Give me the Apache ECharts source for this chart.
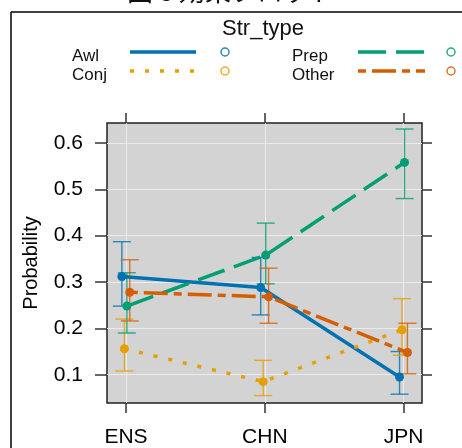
<!DOCTYPE html>
<html lang="ja">
<head>
    <meta charset="UTF-8">
    <title>効果プロット</title>
    <script src="https://cdn.jsdelivr.net/npm/echarts@6.0.0/dist/echarts.min.js"></script>
    <style>
        html, body { margin: 0; padding: 0; background: #fff; }
        #main { width: 462px; height: 448px; }
    </style>
</head>
<body>
    <div id="main"></div>
    <script type="text/javascript">
        // カテゴリと目盛り
        const categories = ['ENS', 'CHN', 'JPN'];
        const yTicks = [0.1, 0.2, 0.3, 0.4, 0.5, 0.6];

        // 各 Str_type の推定値と信頼区間
        const awl = [0.312, 0.288, 0.095];
        const awlLo = [0.248, 0.229, 0.058];
        const awlHi = [0.387, 0.353, 0.150];

        const conj = [0.156, 0.085, 0.197];
        const conjLo = [0.108, 0.055, 0.142];
        const conjHi = [0.220, 0.131, 0.264];

        const prep = [0.248, 0.358, 0.558];
        const prepLo = [0.190, 0.296, 0.480];
        const prepHi = [0.320, 0.427, 0.630];

        const other = [0.278, 0.268, 0.148];
        const otherLo = [0.216, 0.211, 0.102];
        const otherHi = [0.348, 0.330, 0.211];

        const FONT = '"Liberation Sans", Arial, sans-serif';

        const groups = [
            { name: 'Awl', est: awl, lo: awlLo, hi: awlHi, color: '#0072B2', dash: 'solid', off: -0.03 },
            { name: 'Conj', est: conj, lo: conjLo, hi: conjHi, color: '#E69F00', dash: [4, 11], off: -0.012 },
            { name: 'Prep', est: prep, lo: prepLo, hi: prepHi, color: '#009E73', dash: [28, 10], off: 0.006 },
            { name: 'Other', est: other, lo: otherLo, hi: otherHi, color: '#D55E00', dash: [8, 6, 24, 6], off: 0.027 },
        ];

        const series = [];
        groups.forEach(g => {
            // 信頼区間 (エラーバー)
            series.push({
                type: 'custom',
                name: g.name + '_ci',
                silent: true,
                z: 2,
                data: categories.map((c, i) => [i + 1 + g.off, g.lo[i], g.hi[i]]),
                renderItem: function (params, api) {
                    const lo = api.coord([api.value(0), api.value(1)]);
                    const hi = api.coord([api.value(0), api.value(2)]);
                    const w = 9;
                    const st = { stroke: g.color, lineWidth: 1.4, opacity: 0.8 };
                    return {
                        type: 'group',
                        children: [
                            { type: 'line', shape: { x1: lo[0], y1: lo[1], x2: hi[0], y2: hi[1] }, style: st },
                            { type: 'line', shape: { x1: lo[0] - w, y1: lo[1], x2: lo[0] + w, y2: lo[1] }, style: st },
                            { type: 'line', shape: { x1: hi[0] - w, y1: hi[1], x2: hi[0] + w, y2: hi[1] }, style: st },
                        ],
                    };
                },
            });
            // 推定値の線
            series.push({
                type: 'line',
                name: g.name,
                silent: true,
                z: 3,
                data: categories.map((c, i) => [i + 1 + g.off, g.est[i]]),
                symbol: 'circle',
                symbolSize: 9,
                itemStyle: { color: g.color },
                lineStyle: { color: g.color, width: 3.5, type: g.dash },
            });
        });

        // 凡例 (手描き)
        function legendItem(label, x, y, color, dash, lineX1, lineX2, circX) {
            return [
                { type: 'text', left: x, top: y - 6, style: { text: label, font: '17px ' + FONT, fill: '#111' } },
                { type: 'line', shape: { x1: lineX1, y1: y - 2, x2: lineX2, y2: y - 2 },
                  style: { stroke: color, lineWidth: 3.5, lineDash: dash === 'solid' ? null : dash } },
                { type: 'circle', shape: { cx: circX, cy: y - 2, r: 4 },
                  style: { fill: 'none', stroke: color, lineWidth: 1.5, opacity: 0.85 } },
            ];
        }

        const graphic = [
            { type: 'text', left: 'center', top: -22, style: { text: '図 8 効果プロット', font: '26px "Noto Sans CJK JP"', fill: '#111' } },
            { type: 'line', shape: { x1: 11, y1: 12, x2: 470, y2: 12 }, style: { stroke: '#000', lineWidth: 1.5 } },
            { type: 'line', shape: { x1: 11, y1: 12, x2: 11, y2: 460 }, style: { stroke: '#000', lineWidth: 1.5 } },
            { type: 'text', x: 263, y: 29, style: { text: 'Str_type', font: '22px ' + FONT, fill: '#111', align: 'center', verticalAlign: 'middle' } },
        ]
            .concat(legendItem('Awl', 72, 54, groups[0].color, 'solid', 130, 196, 225))
            .concat(legendItem('Conj', 72, 73, groups[1].color, groups[1].dash, 130, 196, 225))
            .concat(legendItem('Prep', 292, 54, groups[2].color, groups[2].dash, 358, 425, 451))
            .concat(legendItem('Other', 292, 73, groups[3].color, groups[3].dash, 358, 425, 451));

        const xCustom = categories.map((c, i) => i + 1);
        const tickStyle = { color: '#333', width: 1.5 };

        const option = {
            animation: false,
            textStyle: { fontFamily: FONT },
            grid: {
                left: 107, top: 123, width: 315, height: 285,
                show: true, backgroundColor: '#d3d3d3', borderColor: '#222', borderWidth: 1.5,
            },
            xAxis: [
                {
                    type: 'value', min: 0.863, max: 3.132, position: 'bottom',
                    axisLine: { show: false },
                    axisTick: { show: true, customValues: xCustom, length: 10, lineStyle: tickStyle },
                    axisLabel: {
                        customValues: xCustom, margin: 24, fontSize: 21, color: '#000',
                        formatter: v => categories[Math.round(v) - 1],
                    },
                    splitLine: { show: true, lineStyle: { color: '#ebebeb', width: 1 } },
                },
                {
                    type: 'value', min: 0.863, max: 3.132, position: 'top',
                    axisLine: { show: false },
                    axisTick: { show: true, customValues: xCustom, length: 10, lineStyle: tickStyle },
                    axisLabel: { show: false },
                    splitLine: { show: false },
                },
            ],
            yAxis: [
                {
                    type: 'value', min: 0.039, max: 0.643, position: 'left',
                    name: 'Probability', nameLocation: 'middle', nameGap: 66,
                    nameTextStyle: { fontSize: 20, color: '#000' },
                    axisLine: { show: false },
                    axisTick: { show: true, customValues: yTicks, length: 12, lineStyle: tickStyle },
                    axisLabel: {
                        customValues: yTicks, margin: 24, fontSize: 21, color: '#000',
                        formatter: v => v.toFixed(1),
                    },
                    splitLine: { show: true, lineStyle: { color: '#ebebeb', width: 1 } },
                },
                {
                    type: 'value', min: 0.039, max: 0.643, position: 'right',
                    axisLine: { show: false },
                    axisTick: { show: true, customValues: yTicks, length: 10, lineStyle: tickStyle },
                    axisLabel: { show: false },
                    splitLine: { show: false },
                },
            ],
            graphic: graphic,
            series: series,
        };

        const myChart = echarts.init(document.getElementById('main'));
        myChart.setOption(option);
    </script>
</body>
</html>
